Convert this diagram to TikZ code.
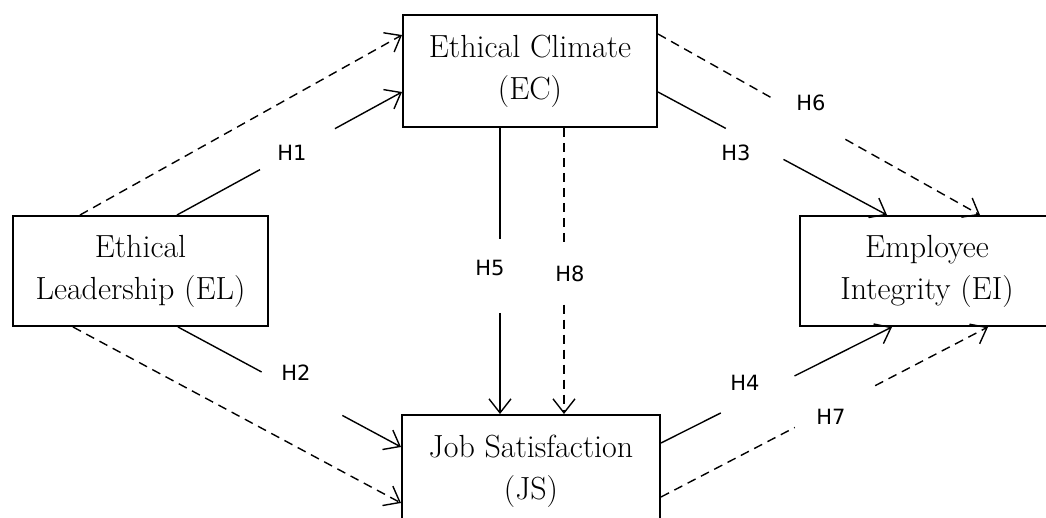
\documentclass[tikz,border=0pt]{standalone}
\usepackage{fontspec}
\newfontfamily\hypfont{DejaVu Sans}
\usetikzlibrary{arrows.meta,calc}

\tikzset{
  construct/.style={draw, line width=1pt, inner sep=0pt, align=center,
    font=\fontsize{16}{21}\selectfont},
  link/.style={line width=0.7pt},
  indirect/.style={link, dash pattern=on 4.5pt off 3pt},
  hyp/.style={font=\hypfont\fontsize{10.5}{12}\selectfont, inner sep=0pt},
  >={Straight Barb[length=7pt,width=11pt]}
}

\begin{document}
\begin{tikzpicture}[x=0.5pt, y=-0.5pt]
  \useasboundingbox (0,0) rectangle (1046,518);
  \clip (0,0) rectangle (1046,518);

  % the four constructs
  \node [construct, minimum width=127.5pt, minimum height=55pt] (el) at (140.5,271) {Ethical\\Leadership (EL)};
  \node [construct, minimum width=127pt, minimum height=56pt] (ec) at (530,71) {Ethical Climate\\(EC)};
  \node [construct, minimum width=129pt, minimum height=56pt] (js) at (531,471) {Job Satisfaction\\(JS)};
  \node [construct, minimum width=127pt, minimum height=55pt] (ei) at (927,271) {Employee\\Integrity (EI)};

  % end points of the paths
  \coordinate (h1s) at ($(el.north)+(36.5,0)$);  \coordinate (h1e) at ($(ec.west)+(0,21)$);
  \coordinate (elecs) at ($(el.north)+(-60.5,0)$); \coordinate (elece) at ($(ec.west)+(0,-36)$);
  \coordinate (h2s) at ($(el.south)+(37.5,0)$);  \coordinate (h2e) at ($(js.west)+(0,-24)$);
  \coordinate (eljss) at ($(el.south)+(-67.5,0)$); \coordinate (eljse) at ($(js.west)+(0,32)$);
  \coordinate (h3s) at ($(ec.east)+(0,21)$);     \coordinate (h3e) at ($(ei.north)+(-40,0)$);
  \coordinate (h6s) at ($(ec.east)+(0,-37)$);    \coordinate (h6e) at ($(ei.north)+(53,0)$);
  \coordinate (h5s) at ($(ec.south)+(-30,0)$);   \coordinate (h5e) at ($(js.north)+(-31,0)$);
  \coordinate (h8s) at ($(ec.south)+(34,0)$);    \coordinate (h8e) at ($(js.north)+(33,0)$);
  \coordinate (h4s) at ($(js.east)+(0,-28)$);    \coordinate (h4e) at ($(ei.south)+(-35,0)$);
  \coordinate (h7s) at ($(js.east)+(0,26)$);     \coordinate (h7e) at ($(ei.south)+(61,0)$);

  % dashed paths without a label
  \draw [indirect, ->] (elecs) -- (elece);
  \draw [indirect, ->] (eljss) -- (eljse);

  % labelled paths, broken where the label sits
  \foreach \p/\a/\b/\kind in {h1/0.369/0.702/link, h2/0.375/0.737/link, h3/0.296/0.548/link,
      h4/0.259/0.578/link, h5/0.389/0.646/link, h6/0.359/0.582/indirect,
      h7/0.409/0.655/indirect, h8/0.417/0.618/indirect} {
    \draw [\kind] (\p s) -- ($(\p s)!\a!(\p e)$);
    \draw [\kind, ->] ($(\p s)!\b!(\p e)$) -- (\p e);
  }

  % hypothesis labels
  \node [hyp] (lh1) at (292,153) {H1};
  \node [hyp] (lh2) at (296,373) {H2};
  \node [hyp] (lh3) at (736,153) {H3};
  \node [hyp] (lh4) at (745,383) {H4};
  \node [hyp] (lh5) at (490,268) {H5};
  \node [hyp] (lh6) at (811,103) {H6};
  \node [hyp] (lh7) at (831,417) {H7};
  \node [hyp] (lh8) at (570,274) {H8};
\end{tikzpicture}
\end{document}
